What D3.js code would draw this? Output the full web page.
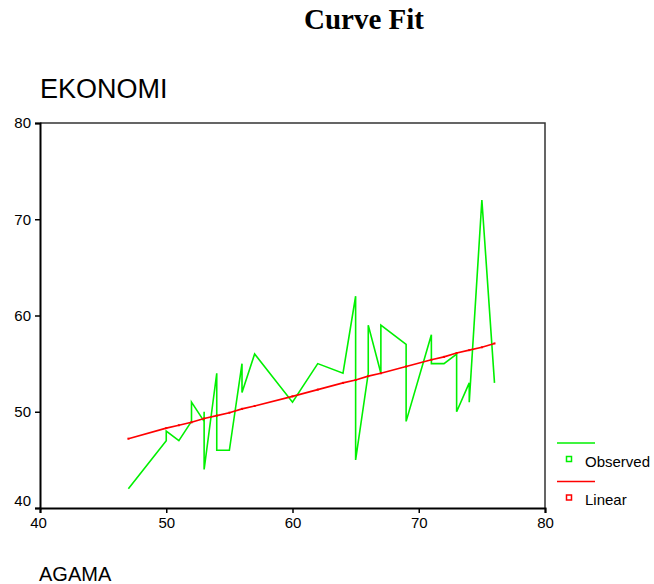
<!DOCTYPE html>
<html>
<head>
<meta charset="utf-8">
<script src="https://cdn.jsdelivr.net/npm/d3@7/dist/d3.min.js"></script>
<style>
  html, body { margin: 0; padding: 0; background: #fff; }
  svg { display: block; }
</style>
</head>
<body>
<svg id="chart" width="654" height="584"></svg>
<script>
// Observed points (AGAMA, EKONOMI) in drawing order
const obsX = [47, 50, 50, 51, 52, 52, 53, 53, 53, 54, 54, 55, 56, 56, 57, 60, 62, 64, 65, 65, 66, 66, 67, 67, 69, 69, 71, 71, 72, 73, 73, 74, 74, 75, 76];
const obsY = [42, 47, 48, 47, 49, 51, 49, 50, 44, 54, 46, 46, 55, 52, 56, 51, 55, 54, 62, 45, 54, 59, 54, 59, 57, 49, 58, 55, 55, 56, 50, 53, 51, 72, 53];
// Linear fit values at each distinct x
const linX = [47, 50, 51, 52, 53, 54, 55, 56, 57, 60, 62, 64, 65, 66, 67, 69, 71, 72, 73, 74, 75, 76];
const linY = [47.2, 48.3, 48.6, 48.9, 49.3, 49.6, 49.9, 50.3, 50.6, 51.6, 52.3, 53.0, 53.3, 53.7, 54.0, 54.7, 55.4, 55.7, 56.1, 56.4, 56.7, 57.1];
const xTicks = [40, 50, 60, 70, 80];
const yTicks = [40, 50, 60, 70, 80];
const seriesNames = ["Observed", "Linear"];
const seriesColors = ["#00f000", "#ff0000"];

const svg = d3.select("#chart");
const L = 40, R = 545, T = 123, B = 508;
const x = d3.scaleLinear().domain([40, 80]).range([L, R]);
const y = d3.scaleLinear().domain([40, 80]).range([B, T]);

// Title
svg.append("text").attr("x", 364).attr("y", 29)
  .attr("text-anchor", "middle")
  .attr("font-family", "'Liberation Serif', 'Times New Roman', serif")
  .attr("font-weight", "bold").attr("font-size", 29)
  .text("Curve Fit");

// Y axis title
svg.append("text").attr("x", 40).attr("y", 98)
  .attr("font-family", "'Liberation Sans', Arial, sans-serif")
  .attr("font-size", 27).text("EKONOMI");

// X axis title
svg.append("text").attr("x", 39).attr("y", 581)
  .attr("font-family", "'Liberation Sans', Arial, sans-serif")
  .attr("font-size", 20).text("AGAMA");

// Frame (top & right)
svg.append("path")
  .attr("d", `M${L},${T}H${R}V${B}`)
  .attr("fill", "none").attr("stroke", "#333").attr("stroke-width", 1.5);

// Axes
const xAxis = svg.append("g").attr("transform", `translate(0,${B})`)
  .call(d3.axisBottom(x).tickValues(xTicks).tickSize(5).tickPadding(4).tickFormat(d3.format("d")));
const yAxis = svg.append("g").attr("transform", `translate(${L},0)`)
  .call(d3.axisLeft(y).tickValues(yTicks).tickSize(5).tickPadding(4).tickFormat(d3.format("d")));
[xAxis, yAxis].forEach(g => {
  g.select(".domain").attr("stroke", "#000").attr("stroke-width", 2);
  g.selectAll(".tick line").attr("stroke", "#000").attr("stroke-width", 1.5);
  g.selectAll(".tick text").attr("font-family", "'Liberation Sans', Arial, sans-serif")
    .attr("font-size", 15).attr("fill", "#000");
});
xAxis.selectAll(".tick text").filter(d => d === 40).attr("dx", -2);
yAxis.selectAll(".tick text").filter(d => d === 40).attr("dy", "-0.2em");

// Observed line
const obs = obsX.map((v, i) => [v, obsY[i]]);
svg.append("path").datum(obs)
  .attr("d", d3.line().x(d => x(d[0])).y(d => y(d[1])))
  .attr("fill", "none").attr("stroke", seriesColors[0]).attr("stroke-width", 1.6)
  .attr("stroke-linejoin", "miter");

// Linear line
const lin = linX.map((v, i) => [v, linY[i]]);
svg.append("path").datum(lin)
  .attr("d", d3.line().x(d => x(d[0])).y(d => y(d[1])))
  .attr("fill", "none").attr("stroke", seriesColors[1]).attr("stroke-width", 1.6);
svg.append("g").selectAll("rect").data(lin).join("rect")
  .attr("x", d => x(d[0]) - 1).attr("y", d => y(d[1]) - 1)
  .attr("width", 2).attr("height", 2).attr("fill", seriesColors[1]);

// Legend
const leg = svg.append("g");
const legY = [443, 481.5];
seriesNames.forEach((name, i) => {
  leg.append("line").attr("x1", 557).attr("x2", 595)
    .attr("y1", legY[i]).attr("y2", legY[i])
    .attr("stroke", seriesColors[i]).attr("stroke-width", 1.5);
  leg.append("rect").attr("x", 566.5).attr("y", legY[i] + 13.5)
    .attr("width", 5).attr("height", 5)
    .attr("fill", "#fff").attr("stroke", seriesColors[i]).attr("stroke-width", 1.5);
  leg.append("text").attr("x", 585).attr("y", legY[i] + 23.5)
    .attr("font-family", "'Liberation Sans', Arial, sans-serif")
    .attr("font-size", 15).attr("fill", "#000").text(name);
});
</script>
</body>
</html>
